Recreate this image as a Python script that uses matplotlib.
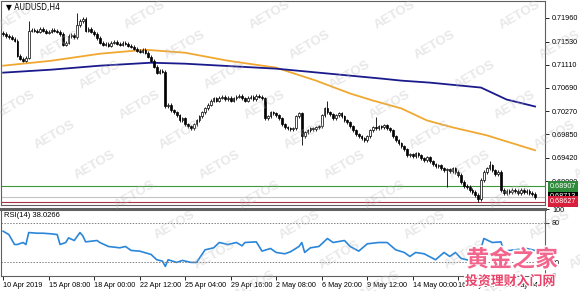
import numpy as np
import matplotlib.pyplot as plt
import matplotlib.patheffects as pe

# AUDUSD H4 closes (one per bar)
closes = [
    0.71671, 0.71635, 0.71617, 0.71581, 0.71545, 0.71274, 0.71220, 0.71184, 0.71238, 0.71726,
    0.71744, 0.71726, 0.71708, 0.71762, 0.71726, 0.71690, 0.71708, 0.71744, 0.71726, 0.71708,
    0.71671, 0.71473, 0.71509, 0.71635, 0.71653, 0.71617, 0.71834, 0.71906, 0.71942, 0.71726,
    0.71762, 0.71708, 0.71671, 0.71599, 0.71509, 0.71473, 0.71491, 0.71455, 0.71509, 0.71527,
    0.71491, 0.71473, 0.71509, 0.71491, 0.71455, 0.71437, 0.71401, 0.71365, 0.71347, 0.71383,
    0.71329, 0.71256, 0.71184, 0.71076, 0.70968, 0.71004, 0.70986, 0.70354, 0.70390, 0.70282,
    0.70246, 0.70192, 0.70101, 0.70138, 0.70029, 0.69993, 0.69957, 0.70029, 0.70101, 0.70174,
    0.70246, 0.70318, 0.70390, 0.70462, 0.70499, 0.70462, 0.70517, 0.70535, 0.70481, 0.70517,
    0.70462, 0.70499, 0.70535, 0.70553, 0.70499, 0.70462, 0.70517, 0.70535, 0.70481, 0.70553,
    0.70535, 0.70499, 0.70138, 0.70174, 0.70246, 0.70228, 0.70192, 0.70138, 0.70029, 0.69975,
    0.69957, 0.69939, 0.69957, 0.70174, 0.70228, 0.69813, 0.69885, 0.69921, 0.69957, 0.69939,
    0.69975, 0.69993, 0.70192, 0.70318, 0.70246, 0.70210, 0.70138, 0.70192, 0.70228, 0.70174,
    0.70101, 0.70065, 0.69993, 0.69921, 0.69849, 0.69813, 0.69777, 0.69740, 0.69813, 0.69921,
    0.69975, 0.69957, 0.69993, 0.69975, 0.70011, 0.69957, 0.69921, 0.69813, 0.69740, 0.69686,
    0.69632, 0.69578, 0.69470, 0.69488, 0.69452, 0.69506, 0.69470, 0.69416, 0.69380, 0.69434,
    0.69362, 0.69307, 0.69271, 0.69289, 0.69235, 0.69199, 0.69217, 0.69181, 0.69235, 0.69163,
    0.69109, 0.68983, 0.68910, 0.68892, 0.68838, 0.68802, 0.68748, 0.68676, 0.69019, 0.69163,
    0.69235, 0.69289, 0.69199, 0.69127, 0.69163, 0.68838, 0.68784, 0.68820, 0.68802, 0.68838,
    0.68820, 0.68784, 0.68838, 0.68802, 0.68820, 0.68784, 0.68766, 0.68713,
]
first_open = 0.71690
wick = 0.0003
# a few longer wicks
spike_hi_bars = [9, 26, 114, 131, 171]
spike_hi = [0.71910, 0.72050, 0.70460, 0.70160, 0.69370]
spike_lo_bars = [105, 156, 167]
spike_lo = [0.69650, 0.68890, 0.68627]

# moving averages
ma_orange_x = [0, 17, 34, 50, 64, 79, 96, 110, 122, 130, 140, 149, 158, 170, 187]
ma_orange = [0.71094, 0.71184, 0.71311, 0.71383, 0.71329, 0.71184, 0.71058, 0.70823,
             0.70589, 0.70462, 0.70318, 0.70101, 0.69975, 0.69831, 0.69560]
ma_navy_x = [0, 17, 34, 52, 64, 96, 133, 140, 150, 168, 177, 187]
ma_navy = [0.70968, 0.71022, 0.71094, 0.71148, 0.71130, 0.71040, 0.70860, 0.70823,
           0.70787, 0.70697, 0.70480, 0.70354]

# RSI(14)
rsi_x = [0, 2, 4, 5, 7, 8, 9, 12, 14, 17, 19, 20, 22, 23, 25, 27, 28, 29, 33, 34,
         37, 41, 43, 45, 48, 52, 54, 56, 57, 58, 61, 63, 66, 68, 71, 74, 76, 79, 82, 84,
         85, 89, 91, 94, 96, 99, 101, 104, 105, 106, 108, 111, 114, 116, 120, 122, 125, 128, 132, 135,
         138, 141, 143, 145, 148, 152, 155, 157, 159, 161, 164, 167, 169, 172, 175, 176, 180, 184, 187]
rsi = [67, 62, 47, 47, 50, 47, 65, 64, 64, 63, 62, 47, 50, 57, 53, 65, 60, 51, 53, 50,
       44, 42, 44, 38, 37, 32, 24, 22, 14, 24, 20, 23, 20, 20, 39, 42, 50, 47, 50, 45,
       50, 51, 37, 41, 35, 33, 36, 44, 50, 35, 42, 44, 56, 50, 53, 44, 37, 48, 50, 50,
       39, 35, 29, 35, 33, 24, 35, 29, 35, 26, 23, 27, 56, 50, 51, 37, 39, 41, 38.0266]

date_labels = ['10 Apr 2019', '15 Apr 08:00', '18 Apr 00:00', '22 Apr 12:00', '25 Apr 04:00',
               '29 Apr 16:00', '2 May 08:00', '6 May 20:00', '9 May 12:00', '14 May 00:00',
               '16 May 16:00', '21 May 04:00']
price_ticks = [0.71960, 0.71530, 0.71110, 0.70690, 0.70270, 0.69850, 0.69420, 0.69000]
level_green = 0.68907
level_bid = 0.68713
level_red = 0.68627

plt.rcParams['font.family'] = ['Liberation Sans', 'DejaVu Sans']

fig = plt.figure(figsize=(5.8, 2.91), dpi=100)
ax = fig.add_axes([0.002, 0.2955, 0.9377, 0.701])
ax_rsi = fig.add_axes([0.002, 0.0515, 0.9377, 0.2303])

n = len(closes)
idx = np.arange(n)
c = np.array(closes)
o = np.concatenate([[first_open], c[:-1]])
hi = np.maximum(o, c) + wick
lo = np.minimum(o, c) - wick
for b, v in zip(spike_hi_bars, spike_hi):
    hi[b] = max(hi[b], v)
for b, v in zip(spike_lo_bars, spike_lo):
    lo[b] = min(lo[b], v)

ax.vlines(idx, lo, hi, color='black', lw=0.6, zorder=3)
body_bottom = np.minimum(o, c)
body_h = np.maximum(np.abs(c - o), 0.00004)
face = ['white' if cc >= oo else 'black' for oo, cc in zip(o, c)]
ax.bar(idx, body_h, bottom=body_bottom, width=0.6, color=face, edgecolor='black', lw=0.5, zorder=4)

ax.plot(ma_orange_x, ma_orange, color='#f0a830', lw=1.3, zorder=2)
ax.plot(ma_navy_x, ma_navy, color='#1a1a8c', lw=1.3, zorder=2)

ax.axhline(level_green, color='#3c9a3c', lw=0.8, zorder=1)
ax.axhline(level_bid, color='#c4c4c4', lw=0.8, zorder=1)
ax.axhline(level_red, color='#a83245', lw=0.8, zorder=1)

ax.set_xlim(-0.7, 190.5)
ax.set_ylim(0.68567, 0.72267)
ax.set_xticks([])
ax.yaxis.tick_right()
ax.set_yticks(price_ticks)
ax.set_yticklabels([f'{p:.5f}' for p in price_ticks])
ax.tick_params(axis='y', labelsize=5.2, length=3, width=0.6, pad=2, colors='black')
for s in ax.spines.values():
    s.set_color('#606060')
    s.set_linewidth(0.8)

ytr = ax.get_yaxis_transform()
ax.text(1.008, level_green, f'{level_green:.5f}', transform=ytr, fontsize=5.2, color='white',
        va='center', ha='left', bbox=dict(boxstyle='square,pad=0.25', fc='#2e8b3a', ec='none'))
ax.text(1.008, level_bid, f'{level_bid:.5f}', transform=ytr, fontsize=5.2, color='white',
        va='center', ha='left', bbox=dict(boxstyle='square,pad=0.25', fc='black', ec='none'))
ax.text(1.008, level_red, f'{level_red:.5f}', transform=ytr, fontsize=5.2, color='white',
        va='center', ha='left', bbox=dict(boxstyle='square,pad=0.25', fc='#d8203c', ec='none'))

ax.text(0.008, 0.97, '\u25bc AUDUSD,H4', transform=ax.transAxes, fontsize=5.5,
        family=['DejaVu Sans'], va='center', ha='left')

# RSI panel
ax_rsi.plot(rsi_x, rsi, color='#2a86d8', lw=1.2)
ax_rsi.axhline(80, color='#808080', lw=0.7, ls=(0, (1.5, 1.5)))
ax_rsi.axhline(20, color='#808080', lw=0.7, ls=(0, (1.5, 1.5)))
ax_rsi.set_xlim(-0.7, 190.5)
ax_rsi.set_ylim(-0.5, 100.5)
ax_rsi.yaxis.tick_right()
ax_rsi.set_yticks([0, 20, 80, 100])
ax_rsi.tick_params(axis='y', labelsize=5.2, length=3, width=0.6, pad=2)
ax_rsi.set_xticks(np.arange(0, 16 * len(date_labels), 16))
ax_rsi.set_xticklabels(date_labels, ha='left')
ax_rsi.tick_params(axis='x', labelsize=5.2, length=3, width=0.6, pad=1.5)
for s in ax_rsi.spines.values():
    s.set_color('#606060')
    s.set_linewidth(0.8)
ax_rsi.spines['top'].set_linewidth(2.2)
ax_rsi.text(0.006, 0.9, 'RSI(14) 38.0266', transform=ax_rsi.transAxes, fontsize=5.5,
            va='center', ha='left')

# AETOS watermark grid
for j in range(-1, 11):
    for i in range(-1, 6):
        x = 20 + 125 * i + 40 * j
        y = 15 + 30 * j
        if -30 < x < 610 and y < 300:
            fig.text(x / 580, 1 - y / 291, 'AETOS', fontsize=9.5, fontweight='bold',
                     color='#b8b8b8', alpha=0.32, rotation=30, ha='center', va='center')

# site watermark
fig.text(512 / 580, 1 - 260 / 291, '黄金之家', family=['Noto Sans CJK SC'], fontsize=16.5,
         fontweight='bold', color='#f2668e', ha='center', va='center', zorder=10,
         path_effects=[pe.withStroke(linewidth=2.5, foreground='white')])
fig.text(510 / 580, 1 - 281 / 291, '投资理财入门网', family=['Noto Sans CJK SC'], fontsize=9.3,
         fontweight='bold', color='#e8436a', ha='center', va='center', zorder=10,
         path_effects=[pe.withStroke(linewidth=2, foreground='white')])

fig.savefig('out.png', dpi=100)
